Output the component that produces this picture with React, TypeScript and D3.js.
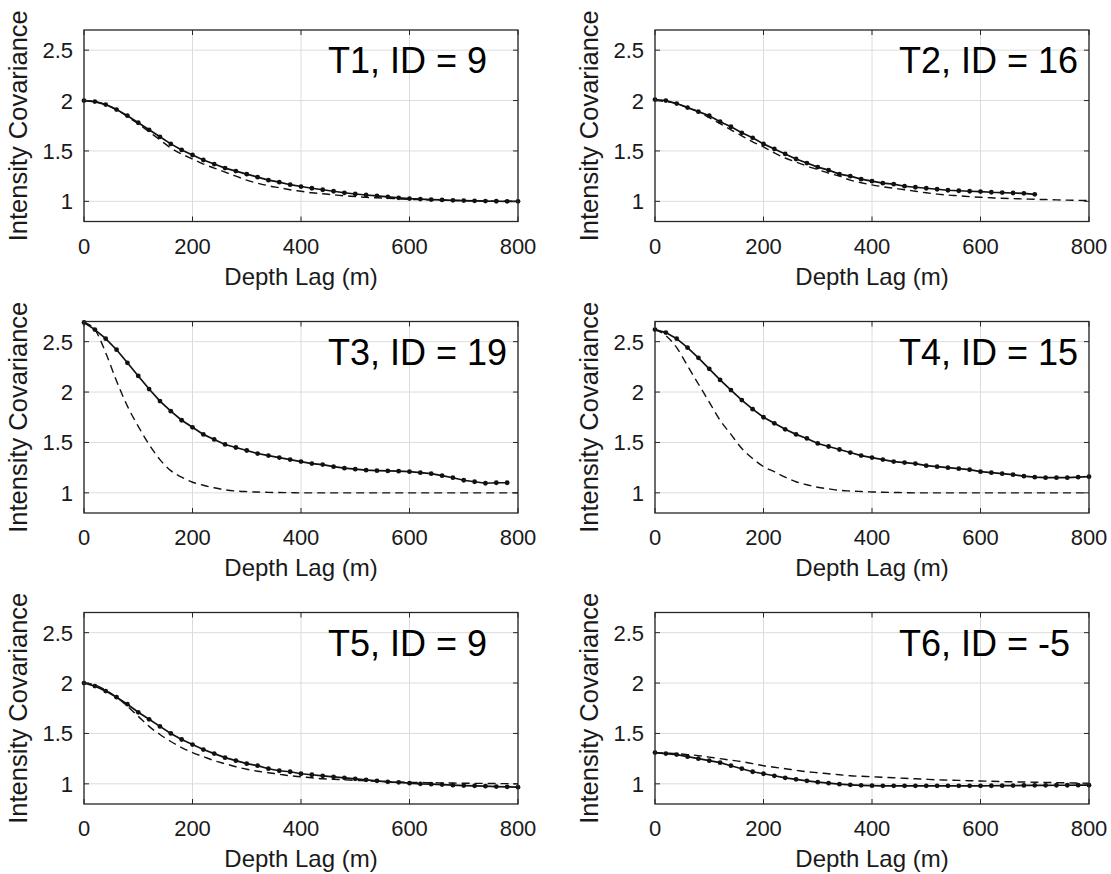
import React from "react";
import * as d3 from "d3";

// Depth lag sampling grid (m)
const LAGS: number[] = [0,20,40,60,80,100,120,140,160,180,200,220,240,260,280,300,320,340,360,380,400,420,440,460,480,500,520,540,560,580,600,620,640,660,680,700,720,740,760,780,800];

const X_TICKS = [0, 200, 400, 600, 800];
const Y_TICKS = [1, 1.5, 2, 2.5];
const X_DOMAIN: [number, number] = [0, 800];
const Y_DOMAIN: [number, number] = [0.8, 2.7];

const TITLES = ["T1, ID = 9", "T2, ID = 16", "T3, ID = 19", "T4, ID = 15", "T5, ID = 9", "T6, ID = -5"];

// measured covariance (solid with dots)
const T1_MEAS = [2.00,1.99,1.96,1.91,1.85,1.78,1.71,1.64,1.57,1.51,1.46,1.41,1.37,1.33,1.30,1.27,1.24,1.21,1.19,1.165,1.147,1.13,1.115,1.10,1.085,1.073,1.063,1.055,1.045,1.035,1.027,1.022,1.018,1.014,1.01,1.008,1.005,1.003,1.001,1.0,1.0];
const T2_MEAS = [2.01,2.00,1.97,1.93,1.89,1.85,1.79,1.74,1.68,1.63,1.57,1.52,1.47,1.42,1.38,1.34,1.31,1.27,1.25,1.22,1.20,1.18,1.17,1.15,1.14,1.13,1.12,1.11,1.105,1.10,1.097,1.09,1.087,1.083,1.08,1.07];
const T3_MEAS = [2.69,2.62,2.53,2.42,2.29,2.16,2.03,1.91,1.81,1.72,1.65,1.58,1.53,1.48,1.45,1.42,1.39,1.37,1.35,1.33,1.31,1.29,1.28,1.26,1.245,1.235,1.225,1.22,1.217,1.215,1.21,1.20,1.19,1.17,1.15,1.125,1.11,1.095,1.10,1.10];
const T4_MEAS = [2.62,2.59,2.53,2.44,2.34,2.23,2.12,2.02,1.92,1.83,1.75,1.69,1.63,1.58,1.54,1.49,1.46,1.43,1.40,1.37,1.35,1.33,1.31,1.30,1.29,1.27,1.26,1.25,1.24,1.23,1.21,1.20,1.19,1.18,1.165,1.155,1.15,1.15,1.15,1.155,1.16];
const T5_MEAS = [2.00,1.97,1.92,1.86,1.79,1.71,1.64,1.57,1.50,1.44,1.39,1.34,1.30,1.26,1.23,1.20,1.18,1.15,1.13,1.12,1.10,1.09,1.08,1.07,1.06,1.05,1.04,1.03,1.02,1.015,1.007,1.0,0.997,0.993,0.987,0.983,0.98,0.977,0.973,0.97,0.967];
const T6_MEAS = [1.31,1.30,1.29,1.27,1.25,1.23,1.21,1.18,1.15,1.12,1.10,1.08,1.06,1.045,1.03,1.017,1.007,0.997,0.99,0.985,0.982,0.98,0.98,0.98,0.98,0.98,0.98,0.98,0.98,0.98,0.98,0.981,0.982,0.983,0.984,0.985,0.985,0.986,0.986,0.987,0.987];

// model covariance (dashed)
const T1_MODEL = [2.0,1.99,1.96,1.91,1.84,1.77,1.69,1.61,1.53,1.47,1.42,1.37,1.33,1.29,1.25,1.21,1.18,1.155,1.135,1.115,1.10,1.085,1.075,1.065,1.055,1.048,1.04,1.035,1.03,1.025,1.02,1.017,1.014,1.011,1.009,1.007,1.005,1.004,1.002,1.001,1.0];
const T2_MODEL = [2.0,1.99,1.97,1.93,1.89,1.83,1.77,1.71,1.65,1.59,1.54,1.48,1.43,1.39,1.35,1.315,1.28,1.25,1.21,1.185,1.163,1.145,1.13,1.115,1.10,1.085,1.072,1.062,1.055,1.047,1.04,1.035,1.03,1.027,1.024,1.02,1.018,1.015,1.012,1.01,1.007];
const T3_MODEL = [2.69,2.62,2.39,2.11,1.86,1.66,1.48,1.33,1.22,1.155,1.105,1.075,1.05,1.03,1.018,1.012,1.008,1.005,1.003,1.002,1.0,1.0,1.0,1.0,1.0,1.0,1.0,1.0,1.0,1.0,1.0,1.0,1.0,1.0,1.0,1.0,1.0,1.0,1.0,1.0,1.0];
const T4_MODEL = [2.62,2.56,2.44,2.26,2.08,1.90,1.72,1.58,1.44,1.34,1.26,1.21,1.155,1.11,1.08,1.055,1.04,1.025,1.018,1.013,1.009,1.006,1.004,1.002,1.0,1.0,1.0,1.0,1.0,1.0,1.0,1.0,1.0,1.0,1.0,1.0,1.0,1.0,1.0,1.0,1.0];
const T5_MODEL = [2.0,1.98,1.93,1.86,1.77,1.67,1.57,1.49,1.42,1.36,1.31,1.27,1.23,1.20,1.17,1.145,1.125,1.11,1.095,1.08,1.07,1.06,1.05,1.045,1.04,1.034,1.03,1.026,1.022,1.018,1.015,1.013,1.011,1.009,1.008,1.006,1.005,1.004,1.003,1.002,1.0];
const T6_MODEL = [1.31,1.305,1.30,1.29,1.28,1.265,1.25,1.235,1.22,1.20,1.18,1.165,1.15,1.135,1.12,1.11,1.10,1.09,1.08,1.075,1.07,1.065,1.06,1.055,1.05,1.045,1.04,1.037,1.034,1.031,1.028,1.025,1.022,1.02,1.018,1.016,1.014,1.012,1.01,1.008,1.006];

const MEAS = [T1_MEAS, T2_MEAS, T3_MEAS, T4_MEAS, T5_MEAS, T6_MEAS];
const MODEL = [T1_MODEL, T2_MODEL, T3_MODEL, T4_MODEL, T5_MODEL, T6_MODEL];

const X_LABEL = "Depth Lag (m)";
const Y_LABEL = "Intensity Covariance";

const FONT = "'Liberation Sans', Arial, Helvetica, sans-serif";
const COL_X = [84, 655];
const PLOT_W = 434;
const ROW_Y = [30, 321.5, 612.5];
const PLOT_H = 191.5;

function Panel({ idx }: { idx: number }) {
  const col = idx % 2;
  const row = Math.floor(idx / 2);
  const left = COL_X[col];
  const top = ROW_Y[row];
  const x = d3.scaleLinear().domain(X_DOMAIN).range([left, left + PLOT_W]);
  const y = d3.scaleLinear().domain(Y_DOMAIN).range([top + PLOT_H, top]);
  const meas = MEAS[idx].map((v, i) => [LAGS[i], v] as [number, number]);
  const model = MODEL[idx].map((v, i) => [LAGS[i], v] as [number, number]);
  const solid = d3.line<[number, number]>().x((d) => x(d[0])).y((d) => y(d[1]))(meas) || "";
  const dashed = d3
    .line<[number, number]>()
    .x((d) => x(d[0]))
    .y((d) => y(d[1]))
    .curve(d3.curveMonotoneX)(model) || "";
  const bottom = top + PLOT_H;
  const right = left + PLOT_W;
  const tickLen = 5;
  const axisColor = "#262626";
  return (
    <g>
      {/* grid */}
      {X_TICKS.map((t) => (
        <line key={"gx" + t} x1={x(t)} x2={x(t)} y1={top} y2={bottom} stroke="#dcdcdc" strokeWidth={1} />
      ))}
      {Y_TICKS.map((t) => (
        <line key={"gy" + t} x1={left} x2={right} y1={y(t)} y2={y(t)} stroke="#dcdcdc" strokeWidth={1} />
      ))}
      {/* curves */}
      <path d={dashed} fill="none" stroke="#111" strokeWidth={1.4} strokeDasharray="8,5" />
      <path d={solid} fill="none" stroke="#111" strokeWidth={1.7} />
      {meas.map((d, i) => (
        <circle key={i} cx={x(d[0])} cy={y(d[1])} r={2.4} fill="#111" />
      ))}
      {/* box and ticks */}
      <rect x={left} y={top} width={PLOT_W} height={PLOT_H} fill="none" stroke={axisColor} strokeWidth={1.3} />
      {X_TICKS.map((t) => (
        <g key={"tx" + t}>
          <line x1={x(t)} x2={x(t)} y1={bottom} y2={bottom - tickLen} stroke={axisColor} strokeWidth={1} />
          <line x1={x(t)} x2={x(t)} y1={top} y2={top + tickLen} stroke={axisColor} strokeWidth={1} />
          <text x={x(t)} y={bottom + 32} textAnchor="middle" fontSize={22} fontFamily={FONT} fill="#1a1a1a">
            {t}
          </text>
        </g>
      ))}
      {Y_TICKS.map((t) => (
        <g key={"ty" + t}>
          <line x1={left} x2={left + tickLen} y1={y(t)} y2={y(t)} stroke={axisColor} strokeWidth={1} />
          <line x1={right} x2={right - tickLen} y1={y(t)} y2={y(t)} stroke={axisColor} strokeWidth={1} />
          <text x={left - 11} y={y(t) + 8} textAnchor="end" fontSize={22} fontFamily={FONT} fill="#1a1a1a">
            {t}
          </text>
        </g>
      ))}
      {/* labels */}
      <text x={(left + right) / 2} y={bottom + 63} textAnchor="middle" fontSize={24} fontFamily={FONT} fill="#1a1a1a">
        {X_LABEL}
      </text>
      <text
        transform={`translate(${left - 57},${(top + bottom) / 2}) rotate(-90)`}
        textAnchor="middle"
        fontSize={25.5}
        fontFamily={FONT}
        fill="#1a1a1a"
      >
        {Y_LABEL}
      </text>
      <text x={left + 244} y={top + 43} fontSize={36} fontFamily={FONT} fill="#000">
        {TITLES[idx]}
      </text>
    </g>
  );
}

export default function App() {
  return (
    <svg
      width={1111}
      height={874}
      viewBox="0 0 1111 874"
      style={{ position: "absolute", left: 0, top: 0, display: "block", background: "#fff" }}
    >
      <rect x={0} y={0} width={1111} height={874} fill="#fff" />
      {TITLES.map((_, i) => (
        <Panel key={i} idx={i} />
      ))}
    </svg>
  );
}
